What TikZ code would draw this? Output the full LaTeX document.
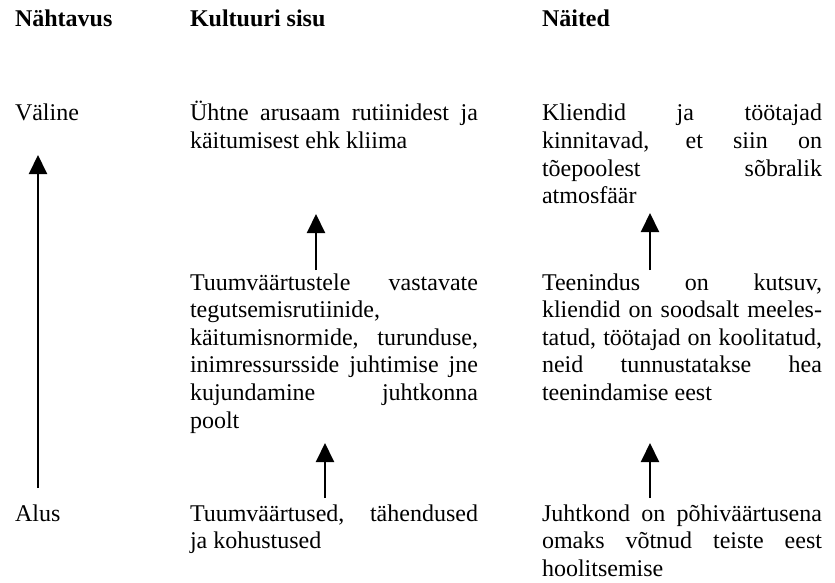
\documentclass[tikz,border=0pt]{standalone}
\usepackage{fontspec}
\setmainfont{Liberation Serif}
\usetikzlibrary{arrows.meta}
% zero-width rule that fixes the height of a block's first line
\newcommand{\firstlinetop}{\rule{0pt}{24pt}}
\hyphenpenalty=10000
\tolerance=10000
\begin{document}
\begin{tikzpicture}[x=1pt,y=-1pt,
  every node/.style={inner sep=0pt, outer sep=0pt,
    font=\fontsize{24}{27.6}\selectfont},
  colhead/.style={anchor=base west, font=\fontsize{24}{27.6}\selectfont\bfseries},
  rowlabel/.style={anchor=base west},
  contentcell/.style={anchor=north west, text width=288pt, align=justify},
  examplecell/.style={anchor=north west, text width=280pt, align=justify},
  uparrow/.style={line width=2pt, -{Triangle[length=19pt,width=18pt]}}]
\useasboundingbox (0,0) rectangle (835,583);

% column headings
\node[colhead] (hvis) at (15,27) {Nähtavus};
\node[colhead] (hcont) at (190,27) {Kultuuri sisu};
\node[colhead] (hex) at (542,27) {Näited};

% visibility levels
\node[rowlabel] (outer) at (15,121) {Väline};
\node[rowlabel] (base) at (15,521) {Alus};

% culture content
\node[contentcell] (climate) at (190,97) {\firstlinetop Ühtne arusaam rutiinidest ja\linebreak käitumisest ehk kliima};
\node[contentcell] (routines) at (190,266) {\firstlinetop Tuumväärtustele vastavate\linebreak tegutsemisrutiinide,\linebreak käitumisnormide, turunduse,\linebreak inimressursside juhtimise jne\linebreak kujundamine juhtkonna\linebreak poolt};
\node[contentcell] (values) at (190,497) {\firstlinetop Tuumväärtused, tähendused\linebreak ja kohustused};

% examples
\node[examplecell] (exclimate) at (542,97) {\firstlinetop Kliendid ja töötajad\linebreak kinnitavad, et siin on\linebreak tõepoolest sõbralik\linebreak atmosfäär};
\node[examplecell] (exroutines) at (542,266) {\firstlinetop Teenindus on kutsuv,\linebreak kliendid on soodsalt meeles-\linebreak tatud, töötajad on koolitatud,\linebreak neid tunnustatakse hea\linebreak teenindamise eest};
\node[examplecell] (exvalues) at (542,497) {\firstlinetop Juhtkond on põhiväärtusena\linebreak omaks võtnud teiste eest\linebreak hoolitsemise};

% arrow ends
\coordinate (visfrom) at (38,488);
\coordinate (visto) at (38,155);
\coordinate (c1from) at (316,270);
\coordinate (c1to) at (316,214);
\coordinate (c2from) at (325,498);
\coordinate (c2to) at (325,443);
\coordinate (e1from) at (650,270);
\coordinate (e1to) at (650,213);
\coordinate (e2from) at (650,498);
\coordinate (e2to) at (650,443);

\draw[uparrow] (visfrom) -- (visto);
\draw[uparrow] (c1from) -- (c1to);
\draw[uparrow] (c2from) -- (c2to);
\draw[uparrow] (e1from) -- (e1to);
\draw[uparrow] (e2from) -- (e2to);
\end{tikzpicture}
\end{document}
